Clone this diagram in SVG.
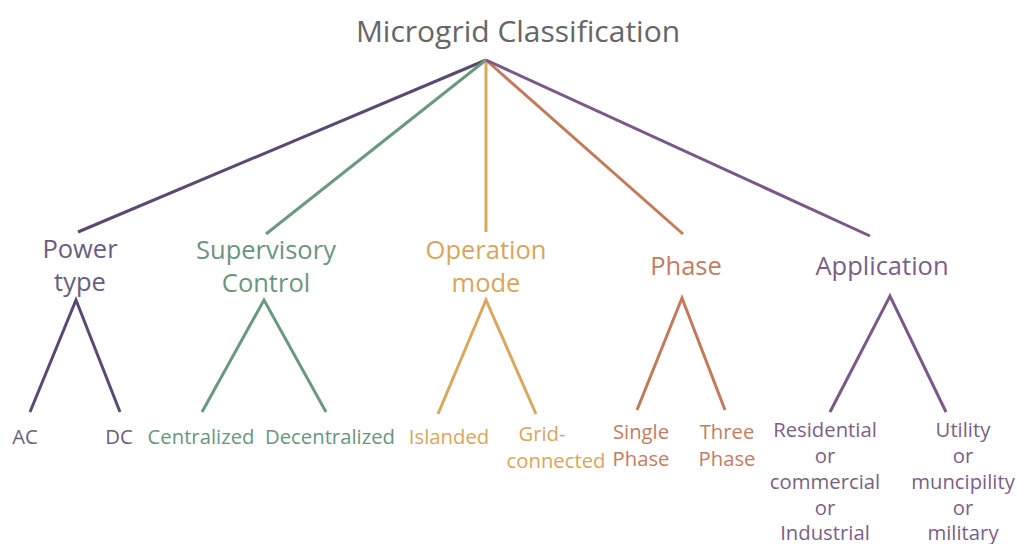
<svg xmlns="http://www.w3.org/2000/svg" width="1021" height="544" viewBox="0 0 1021 544">
<style>
text{font-family:"Open Sans",Lato,"Liberation Sans",sans-serif;text-anchor:middle}
.t{font-size:30px;fill:#666}
.h{font-size:25.5px}
.s{font-size:20.3px}
line{stroke-width:3;stroke-linecap:butt}
.pu{stroke:#5a4a72}.gr{stroke:#6a9a7e}.or{stroke:#dba75c}.ph{stroke:#c47a58}.ap{stroke:#7a5888}
.tpu{fill:#6b5d80}.tgr{fill:#6a9680}.tor{fill:#d7a65c}.tph{fill:#c67c62}.tap{fill:#7b5f86}
</style>
<rect width="1021" height="544" fill="#fff"/>
<g id="connectors">
<line class="pu" x1="486" y1="60" x2="78" y2="232"/>
<line class="gr" x1="486" y1="60" x2="266" y2="234"/>
<line class="or" x1="486" y1="60" x2="486" y2="232"/>
<line class="ph" x1="486" y1="60" x2="683" y2="234"/>
<line class="ap" x1="486" y1="60" x2="870" y2="236"/>
<polyline class="pu" fill="none" stroke-width="3" points="30,412 76,300 120,412"/>
<polyline class="gr" fill="none" stroke-width="3" points="202,412 264,300 326,412"/>
<polyline class="or" fill="none" stroke-width="3" points="438,414 486,300 536,414"/>
<polyline class="ph" fill="none" stroke-width="3" points="637,410 682,298 725,410"/>
<polyline class="ap" fill="none" stroke-width="3" points="830,412 890,296 946,412"/>
</g>
<g id="title"><text class="t" x="518" y="42">Microgrid Classification</text></g>
<g id="power-type" class="h tpu"><text x="80" y="258">Power</text><text x="80" y="291">type</text></g>
<g id="supervisory-control" class="h tgr"><text x="266" y="259">Supervisory</text><text x="266" y="292">Control</text></g>
<g id="operation-mode" class="h tor"><text x="486" y="259">Operation</text><text x="486" y="292">mode</text></g>
<g id="phase" class="h tph"><text x="686" y="275">Phase</text></g>
<g id="application" class="h tap"><text x="882" y="275">Application</text></g>
<g id="ac" class="s tpu"><text x="25" y="444">AC</text></g>
<g id="dc" class="s tpu"><text x="119" y="444">DC</text></g>
<g id="centralized" class="s tgr"><text x="201" y="444">Centralized</text></g>
<g id="decentralized" class="s tgr"><text x="330" y="444">Decentralized</text></g>
<g id="islanded" class="s tor"><text x="449" y="444">Islanded</text></g>
<g id="grid-connected" class="s tor"><text x="542" y="441">Grid-</text><text x="556" y="468">connected</text></g>
<g id="single-phase" class="s tph"><text x="641" y="439">Single</text><text x="641" y="466">Phase</text></g>
<g id="three-phase" class="s tph"><text x="727" y="439">Three</text><text x="727" y="466">Phase</text></g>
<g id="residential" class="s tap"><text x="825" y="437">Residential</text><text x="825" y="463">or</text><text x="825" y="489">commercial</text><text x="825" y="515">or</text><text x="825" y="540">Industrial</text></g>
<g id="utility" class="s tap"><text x="963" y="437">Utility</text><text x="963" y="463">or</text><text x="963" y="489">muncipility</text><text x="963" y="515">or</text><text x="963" y="540">military</text></g>
</svg>
